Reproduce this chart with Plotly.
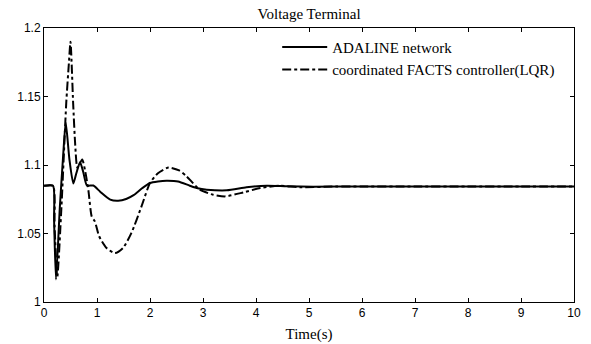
import plotly.graph_objects as go

t_adaline = [0, 0.17, 0.19, 0.226, 0.30, 0.365, 0.41, 0.48, 0.553, 0.61, 0.68, 0.74, 0.81, 0.93,
             1.06, 1.25, 1.40, 1.55, 1.69, 1.85, 2.0, 2.15, 2.31, 2.53, 2.75, 2.9, 3.07, 3.45,
             3.82, 4.2, 4.58, 5.08, 6, 7, 8, 9, 10]
v_adaline = [1.0848, 1.0848, 1.06, 1.0165, 1.07, 1.109, 1.131, 1.104, 1.0865, 1.094, 1.102, 1.095,
             1.085, 1.085, 1.0805, 1.0747, 1.0739, 1.0752, 1.078, 1.083, 1.0869, 1.088, 1.0885,
             1.088, 1.0849, 1.083, 1.082, 1.0815, 1.0837, 1.0849, 1.0845, 1.0842, 1.0843,
             1.0843, 1.0843, 1.0843, 1.0843]

t_lqr = [0, 0.17, 0.20, 0.25, 0.33, 0.42, 0.47, 0.50, 0.55, 0.59, 0.63, 0.72, 0.78, 0.84, 0.90,
         0.96, 1.04, 1.18, 1.34, 1.49, 1.65, 1.84, 2.0, 2.15, 2.35, 2.55, 2.69, 2.94, 3.19, 3.42,
         3.76, 4.08, 4.45, 4.83, 5.5, 6, 7, 8, 9, 10]
v_lqr = [1.0848, 1.0848, 1.055, 1.0180, 1.07, 1.1455, 1.1746, 1.190, 1.145, 1.114, 1.098, 1.104,
         1.095, 1.0807, 1.0625, 1.0588, 1.048, 1.0394, 1.0357, 1.0394, 1.0504, 1.0698, 1.0869,
         1.094, 1.0982, 1.096, 1.0917, 1.082, 1.0783, 1.0771, 1.080, 1.0832, 1.0849, 1.0837,
         1.0843, 1.0843, 1.0843, 1.0843, 1.0843, 1.0843]

x_ticks = list(range(0, 11))
y_ticks = [1.0, 1.05, 1.1, 1.15, 1.2]
y_tick_labels = ["1", "1.05", "1.1", "1.15", "1.2"]

fig = go.Figure()
fig.add_trace(go.Scatter(x=t_adaline, y=v_adaline, mode="lines", name="ADALINE network",
                         line=dict(color="black", width=2, shape="spline", smoothing=0.6)))
fig.add_trace(go.Scatter(x=t_lqr, y=v_lqr, mode="lines", name="coordinated FACTS controller(LQR)",
                         line=dict(color="black", width=2, dash="dashdot", shape="spline", smoothing=0.6)))

axis_common = dict(showline=True, linecolor="black", linewidth=1, mirror="ticks",
                   ticks="inside", ticklen=4, tickcolor="black", showgrid=False, zeroline=False,
                   automargin=False,
                   tickfont=dict(family="Liberation Sans, Arial", size=12, color="black"))

fig.update_layout(
    width=591, height=344,
    margin=dict(l=44, r=17, t=28, b=42),
    paper_bgcolor="white", plot_bgcolor="white",
    title=dict(text="Voltage Terminal", x=0.523, xanchor="center", y=0.96, yanchor="middle",
               font=dict(family="Liberation Serif, Times New Roman", size=15, color="black")),
    xaxis=dict(range=[0, 10], tickvals=x_ticks, ticktext=[str(v) for v in x_ticks],
               title=dict(text="Time(s)", standoff=9,
                          font=dict(family="Liberation Serif, Times New Roman", size=15, color="black")),
               **axis_common),
    yaxis=dict(range=[1.0, 1.2], tickvals=y_ticks, ticktext=y_tick_labels, **axis_common),
    legend=dict(x=0.44, y=0.99, xanchor="left", yanchor="top", bgcolor="rgba(0,0,0,0)",
                font=dict(family="Liberation Serif, Times New Roman", size=15, color="black"),
                tracegroupgap=0, itemwidth=45),
    showlegend=True,
)

fig.write_html("out.html")
